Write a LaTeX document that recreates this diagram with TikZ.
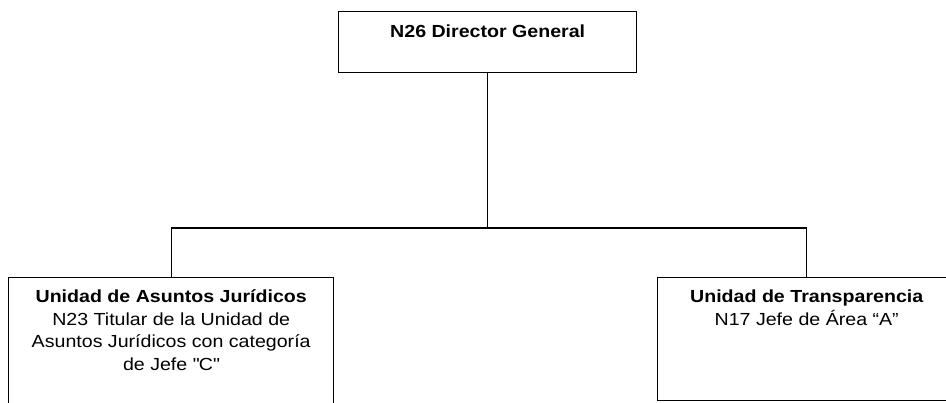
\documentclass[tikz,border=0pt]{standalone}
\usepackage{fontspec}
\setmainfont{Liberation Sans}[FakeStretch=1.12]
\newcommand{\straightquote}{\XeTeXglyph\XeTeXcharglyph"22\relax}
\begin{document}
\begin{tikzpicture}[x=1pt,y=-1pt,
  boxshape/.style={draw=black,line width=1.4pt,rectangle,inner sep=0pt,anchor=north west},
  boxtext/.style={anchor=north,inner sep=0pt,align=center,font=\fontsize{17.5}{22.5}\selectfont},
  conn/.style={draw=black,line width=1.4pt}]
\useasboundingbox (0,0) rectangle (946,403);
\clip (0,0) rectangle (946,403);
% boxes
\node[boxshape,minimum width=298pt,minimum height=61pt] (top) at (338,11) {};
\node[boxshape,minimum width=325pt,minimum height=160pt] (juri) at (8,277) {};
\node[boxshape,minimum width=298pt,minimum height=123pt] (trans) at (657,277) {};
% texts (first baseline 20pt below the node's north edge)
\node[boxtext] (toptxt) at ([yshift=-6.3pt]top.north) {\rule{0pt}{20pt}\bfseries N26 Director General};
\node[boxtext] (juritxt) at ([yshift=-5.7pt]juri.north) {\rule{0pt}{20pt}\bfseries Unidad de Asuntos Jurídicos\\N23 Titular de la Unidad de\\Asuntos Jurídicos con categoría\\de Jefe \straightquote C\straightquote};
\node[boxtext] (transtxt) at ([yshift=-5.7pt]trans.north) {\rule{0pt}{20pt}\bfseries Unidad de Transparencia\\N17 Jefe de Área “A”};
% connectors
\coordinate (bus) at (top.south |- 0,228);
\draw[conn] (top.south) -- (bus);
\draw[conn] (juri.north) |- (bus) -| (trans.north);
\end{tikzpicture}
\end{document}
